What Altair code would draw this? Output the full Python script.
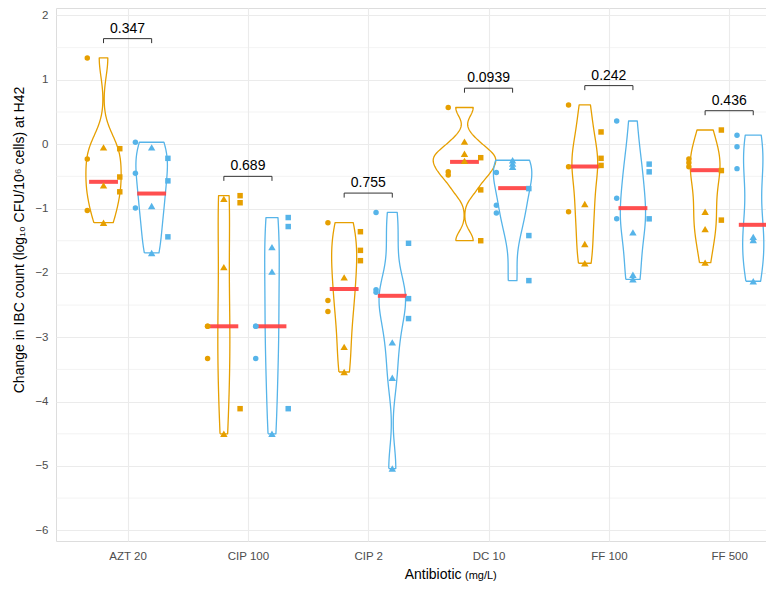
import json
import numpy as np
import pandas as pd
import altair as alt

# ---------------- data ----------------
antibiotics = ["AZT 20", "CIP 100", "CIP 2", "DC 10", "FF 100", "FF 500"]
groups = ["orange", "blue"]
group_colors = ["#E69F00", "#56B4E9"]
shapes = ["circle", "triangle", "square"]

orange_circle = [[1.34, -0.23, -1.03], [-2.83, -2.83, -3.33], [-1.22, -2.43, -2.60],
                 [0.57, -0.43, -0.48], [0.61, -0.35, -1.05], [-0.23, -0.29, -0.35]]
orange_triangle = [[-0.05, -0.64, -1.22], [-0.85, -1.91, -4.50], [-2.07, -3.15, -3.54],
                   [0.04, -0.15, -0.26], [-0.93, -1.55, -1.85], [-1.05, -1.32, -1.84]]
orange_square = [[-0.07, -0.51, -0.74], [-0.80, -0.91, -4.11], [-1.36, -1.65, -1.81],
                 [-0.21, -0.71, -1.50], [0.19, -0.22, -0.33], [0.22, -0.41, -1.18]]
blue_circle = [[0.03, -0.45, -0.99], [-2.83, -2.83, -3.33], [-1.06, -2.26, -2.30],
               [-0.44, -0.95, -1.07], [0.36, -0.84, -1.16], [0.14, -0.04, -0.38]]
blue_triangle = [[-0.05, -0.96, -1.69], [-1.60, -1.98, -4.50], [-3.08, -3.63, -5.04],
                 [-0.25, -0.30, -0.35], [-1.37, -2.03, -2.10], [-1.44, -1.49, -2.13]]
blue_square = [[-0.22, -0.57, -1.44], [-1.14, -1.28, -4.11], [-1.54, -2.40, -2.71],
               [-0.69, -1.42, -2.12], [-0.31, -0.43, -1.16], [-0.34, -1.25, -1.92]]

orange_median = [-0.585, -2.83, -2.25, -0.275, -0.347, -0.404]
blue_median = [-0.767, -2.83, -2.356, -0.683, -0.994, -1.253]
p_values = ["0.347", "0.689", "0.755", "0.0939", "0.242", "0.436"]

y_ticks = [-6, -5, -4, -3, -2, -1, 0, 1, 2]
y_minor = [-5.5, -4.5, -3.5, -2.5, -1.5, -0.5, 0.5, 1.5]

# ---------------- layout constants ----------------
GROUP_OFF = {"orange": -0.2, "blue": 0.2}
SHAPE_OFF = {"circle": -0.135, "triangle": 0.0, "square": 0.135}
SHAPE_SIZE = {"circle": 30, "triangle": 55, "square": 30}
VIOLIN_HALF = 0.26
MED_HALF = 0.12
FONT = "Liberation Sans"

series = {
    ("orange", "circle"): orange_circle, ("orange", "triangle"): orange_triangle,
    ("orange", "square"): orange_square, ("blue", "circle"): blue_circle,
    ("blue", "triangle"): blue_triangle, ("blue", "square"): blue_square,
}

# points table
prow = []
for (g, s), per_ab in series.items():
    for i, vals in enumerate(per_ab):
        for v in vals:
            prow.append({"ab": antibiotics[i], "group": g, "shape": s, "value": v,
                         "x": i + GROUP_OFF[g] + SHAPE_OFF[s], "sz": SHAPE_SIZE[s]})
points = pd.DataFrame(prow)


# violin outline: gaussian KDE (bw.nrd0), trimmed to the data range, scale = "area"
def nrd0(x):
    hi = np.std(x, ddof=1)
    q75, q25 = np.percentile(x, [75, 25])
    lo = min(hi, (q75 - q25) / 1.34)
    if lo <= 0:
        lo = hi if hi > 0 else (abs(x[0]) if x[0] != 0 else 1.0)
    return 0.9 * lo * len(x) ** -0.2


kde = []
for i, ab in enumerate(antibiotics):
    for g in groups:
        vals = np.array([v for s in shapes for v in series[(g, s)][i]])
        bw = nrd0(vals)
        grid = np.linspace(vals.min(), vals.max(), 140)
        dens = np.exp(-0.5 * ((grid[:, None] - vals[None, :]) / bw) ** 2).sum(1) / (
            len(vals) * bw * np.sqrt(2 * np.pi))
        kde.append((ab, g, i + GROUP_OFF[g], grid, dens))
maxd = max(d.max() for *_, d in kde)

vrows = []
for ab, g, c, grid, dens in kde:
    hw = VIOLIN_HALF * dens / maxd
    seq = 0
    for y, w in zip(grid, hw):                 # left side, bottom -> top
        vrows.append({"vid": f"{ab}-{g}", "group": g, "x": c - w, "value": y, "seq": seq}); seq += 1
    for y, w in zip(grid[::-1], hw[::-1]):     # right side, top -> bottom
        vrows.append({"vid": f"{ab}-{g}", "group": g, "x": c + w, "value": y, "seq": seq}); seq += 1
    vrows.append({"vid": f"{ab}-{g}", "group": g, "x": c - hw[0], "value": grid[0], "seq": seq})
violins = pd.DataFrame(vrows)

# medians
mrow = []
for i, ab in enumerate(antibiotics):
    for g, med in (("orange", orange_median[i]), ("blue", blue_median[i])):
        c = i + GROUP_OFF[g]
        mrow.append({"group": g, "x0": c - MED_HALF, "x1": c + MED_HALF, "value": med})
medians = pd.DataFrame(mrow)

# brackets
brow = []
for i, ab in enumerate(antibiotics):
    top = max(max(series[(g, s)][i]) for g in groups for s in shapes) + 0.3
    brow.append({"x0": i - 0.2, "x1": i + 0.2, "xm": float(i), "y": top, "y2": top - 0.07, "p": p_values[i]})
brackets = pd.DataFrame(brow)

minor = pd.DataFrame({"value": y_minor})

# ---------------- scales / axes ----------------
xs = alt.Scale(domain=[-0.595, 5.306], nice=False, zero=False)
ys = alt.Scale(domain=[-6.166, 2.116], nice=False, zero=False)
label_expr = json.dumps(antibiotics) + "[datum.value]"
xaxis = alt.Axis(values=list(range(len(antibiotics))), labelExpr=label_expr, title=None,
                 grid=True, gridColor="#EBEBEB", gridWidth=1.1, ticks=False, domain=False,
                 labelColor="#4D4D4D", labelFontSize=11.5, labelPadding=9, labelFont=FONT)
yaxis = alt.Axis(values=y_ticks, title=None, grid=True, gridColor="#EBEBEB", gridWidth=1.1,
                 ticks=False, domain=False, labelColor="#4D4D4D", labelFontSize=11.5,
                 labelPadding=8, labelFont=FONT)
col = alt.Scale(domain=groups, range=group_colors)

minor_layer = alt.Chart(minor).mark_rule(color="#EBEBEB", strokeWidth=0.6).encode(
    y=alt.Y("value:Q", scale=ys, axis=yaxis))

violin_layer = alt.Chart(violins).mark_line(strokeWidth=1.3, strokeJoin="round").encode(
    y=alt.Y("value:Q", scale=ys, axis=yaxis),
    x=alt.X("x:Q", scale=xs, axis=xaxis),
    color=alt.Color("group:N", scale=col, legend=None),
    detail="vid:N",
    order=alt.Order("seq:Q"),
)

median_layer = alt.Chart(medians).mark_rule(strokeWidth=4, color="#FF4040", opacity=0.92).encode(
    x=alt.X("x0:Q", scale=xs, axis=xaxis), x2="x1:Q",
    y=alt.Y("value:Q", scale=ys, axis=yaxis))

point_layer = alt.Chart(points).mark_point(filled=True, opacity=1).encode(
    x=alt.X("x:Q", scale=xs, axis=xaxis),
    y=alt.Y("value:Q", scale=ys, axis=yaxis),
    color=alt.Color("group:N", scale=col, legend=None),
    shape=alt.Shape("shape:N", scale=alt.Scale(domain=shapes, range=["circle", "triangle-up", "square"]),
                    legend=None),
    size=alt.Size("sz:Q", scale=None, legend=None),
)

bracket_h = alt.Chart(brackets).mark_rule(color="#333333", strokeWidth=1).encode(
    x=alt.X("x0:Q", scale=xs, axis=xaxis), x2="x1:Q", y=alt.Y("y:Q", scale=ys, axis=yaxis))
bracket_l = alt.Chart(brackets).mark_rule(color="#333333", strokeWidth=1).encode(
    x=alt.X("x0:Q", scale=xs, axis=xaxis), y=alt.Y("y:Q", scale=ys, axis=yaxis), y2="y2:Q")
bracket_r = alt.Chart(brackets).mark_rule(color="#333333", strokeWidth=1).encode(
    x=alt.X("x1:Q", scale=xs, axis=xaxis), y=alt.Y("y:Q", scale=ys, axis=yaxis), y2="y2:Q")
p_text = alt.Chart(brackets).mark_text(fontSize=14, font=FONT, color="black", baseline="alphabetic", dy=-6).encode(
    x=alt.X("xm:Q", scale=xs, axis=xaxis), y=alt.Y("y:Q", scale=ys, axis=yaxis), text="p:N")

ytitle = alt.Chart(pd.DataFrame({"t": ["Change in IBC count (log\u2081\u2080 CFU/10\u2076 cells) at H42"]})).mark_text(
    angle=270, align="center", baseline="middle", fontSize=14, font=FONT, color="black").encode(
    text="t:N", x=alt.value(-36), y=alt.value(232))
xtitle1 = alt.Chart(pd.DataFrame({"t": ["Antibiotic"]})).mark_text(
    align="right", baseline="alphabetic", fontSize=14, font=FONT, color="black").encode(
    text="t:N", x=alt.value(405.5), y=alt.value(571))
xtitle2 = alt.Chart(pd.DataFrame({"t": ["(mg/L)"]})).mark_text(
    align="left", baseline="alphabetic", fontSize=11, font=FONT, color="black").encode(
    text="t:N", x=alt.value(409), y=alt.value(571))

chart = alt.layer(
    minor_layer, violin_layer, median_layer, point_layer,
    bracket_h, bracket_l, bracket_r, p_text, ytitle, xtitle1, xtitle2,
).properties(
    width=710, height=533,
    autosize=alt.AutoSizeParams(type="none"),
    padding={"left": 48, "top": 0, "right": 0, "bottom": 43},
).configure_view(strokeWidth=0).configure(background="white")

chart.save("out.html", embed_options={"renderer": "svg", "actions": False})
